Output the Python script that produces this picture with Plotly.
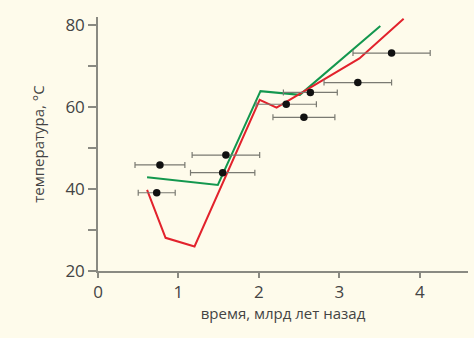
import plotly.graph_objects as go

# Measured points with age uncertainty
pt_age = [0.73, 0.77, 1.55, 1.59, 2.34, 2.56, 2.64, 3.23, 3.65]
pt_temp = [39.1, 45.9, 44.0, 48.3, 60.7, 57.5, 63.6, 66.0, 73.2]
pt_err = [0.23, 0.31, 0.40, 0.42, 0.375, 0.385, 0.335, 0.42, 0.48]

# Model curves
green_age = [0.61, 1.49, 2.02, 2.51, 3.51]
green_temp = [42.9, 41.0, 63.9, 63.0, 79.8]
red_age = [0.61, 0.84, 1.20, 2.01, 2.22, 3.25, 3.80]
red_temp = [39.8, 28.1, 26.0, 61.8, 59.9, 71.9, 81.6]

x_ticks = [0, 1, 2, 3, 4]
y_ticks = [20, 30, 40, 50, 60, 70, 80]
y_labels = ["20", "", "40", "", "60", "", "80"]

bg = "#fefbeb"
axis_col = "#8a8a82"
text_col = "#444444"
font = "Open Sans"

fig = go.Figure()
fig.add_trace(go.Scatter(x=green_age, y=green_temp, mode="lines",
                         line=dict(color="#13974e", width=2)))
fig.add_trace(go.Scatter(x=red_age, y=red_temp, mode="lines",
                         line=dict(color="#e2222c", width=2)))
fig.add_trace(go.Scatter(
    x=pt_age, y=pt_temp, mode="markers",
    marker=dict(color="#111111", size=7.5),
    error_x=dict(type="data", array=pt_err, color="#7a7a72", thickness=1.2, width=3),
))

fig.update_layout(
    width=474, height=338,
    margin=dict(l=98, r=6, t=17, b=67),
    paper_bgcolor=bg, plot_bgcolor=bg,
    showlegend=False,
    font=dict(family=font, color=text_col),
)
fig.update_xaxes(
    range=[0, 4.6], showgrid=False, zeroline=False,
    showline=True, linecolor=axis_col, linewidth=1.5,
    ticks="outside", ticklen=5, tickcolor=axis_col, tickwidth=1.5,
    tickvals=x_ticks, ticktext=[str(v) for v in x_ticks],
    tickfont=dict(size=17, color=text_col),
    title=dict(text="время, млрд лет назад", font=dict(size=15, color=text_col), standoff=5),
)
fig.update_yaxes(
    range=[20, 82], showgrid=False, zeroline=False,
    showline=True, linecolor=axis_col, linewidth=1.5,
    ticks="outside", ticklen=8, tickcolor=axis_col, tickwidth=1.5,
    tickvals=y_ticks, ticktext=y_labels,
    tickfont=dict(size=17, color=text_col),
    title=dict(text="температура, °C", font=dict(size=15, color=text_col), standoff=17),
)

fig.write_html("out.html")
